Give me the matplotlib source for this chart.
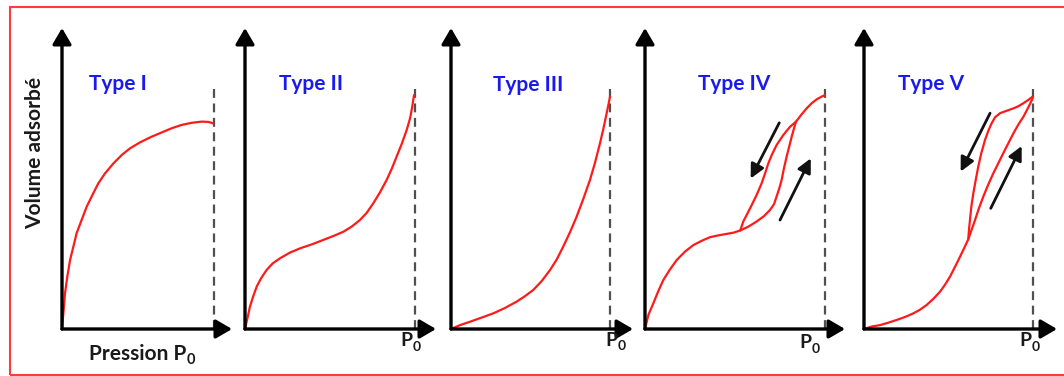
import matplotlib.pyplot as plt
from matplotlib.patches import Rectangle

plt.rcParams["font.family"] = ["Lato", "DejaVu Sans"]

# Isothermes d'adsorption (x = P/P0, y = volume adsorbé)
TYPE1_X = [0, 0.009, 0.020, 0.035, 0.053, 0.075, 0.096, 0.129, 0.162, 0.200, 0.239, 0.283,
           0.338, 0.393, 0.447, 0.513, 0.590, 0.656, 0.722, 0.787, 0.853, 0.919, 0.963, 0.996]
TYPE1_Y = [0, 0.052, 0.119, 0.174, 0.229, 0.274, 0.318, 0.362, 0.406, 0.445, 0.484, 0.517,
           0.550, 0.578, 0.600, 0.620, 0.639, 0.653, 0.667, 0.678, 0.685, 0.689, 0.688, 0.683]

TYPE2_X = [0, 0.014, 0.029, 0.049, 0.069, 0.094, 0.127, 0.163, 0.206, 0.265, 0.324, 0.392,
           0.461, 0.520, 0.578, 0.627, 0.676, 0.716, 0.755, 0.794, 0.833, 0.863, 0.892, 0.922,
           0.951, 0.971, 0.984, 0.994]
TYPE2_Y = [0, 0.035, 0.074, 0.110, 0.141, 0.168, 0.196, 0.218, 0.235, 0.254, 0.268, 0.281,
           0.296, 0.309, 0.323, 0.340, 0.362, 0.386, 0.418, 0.454, 0.495, 0.532, 0.573, 0.615,
           0.661, 0.700, 0.739, 0.777]

TYPE3_X = [0, 0.057, 0.119, 0.193, 0.266, 0.340, 0.413, 0.465, 0.518, 0.570, 0.623, 0.665,
           0.706, 0.748, 0.790, 0.832, 0.874, 0.906, 0.937, 0.958, 0.979, 0.992, 1.0]
TYPE3_Y = [0, 0.013, 0.024, 0.038, 0.052, 0.070, 0.091, 0.109, 0.130, 0.159, 0.196, 0.231,
           0.274, 0.321, 0.373, 0.432, 0.495, 0.553, 0.617, 0.664, 0.717, 0.750, 0.772]

TYPE4_ADS_X = [0, 0.019, 0.046, 0.074, 0.102, 0.139, 0.176, 0.222, 0.269, 0.315, 0.361, 0.407,
               0.454, 0.491, 0.528, 0.574, 0.620, 0.661, 0.694, 0.717, 0.731, 0.746, 0.759,
               0.772, 0.787, 0.802, 0.815, 0.828, 0.839, 0.870, 0.898, 0.926, 0.954, 0.981, 1.0]
TYPE4_ADS_Y = [0, 0.047, 0.085, 0.126, 0.163, 0.198, 0.229, 0.257, 0.279, 0.293, 0.305, 0.311,
               0.316, 0.320, 0.327, 0.340, 0.357, 0.375, 0.395, 0.415, 0.440, 0.467, 0.495,
               0.534, 0.573, 0.608, 0.639, 0.667, 0.689, 0.713, 0.733, 0.750, 0.763, 0.772, 0.777]
TYPE4_DES_X = [0.839, 0.806, 0.769, 0.731, 0.704, 0.685, 0.667, 0.648, 0.620, 0.593, 0.565,
               0.546, 0.533, 0.528]
TYPE4_DES_Y = [0.689, 0.672, 0.645, 0.611, 0.578, 0.550, 0.517, 0.484, 0.445, 0.412, 0.379,
               0.357, 0.334, 0.327]

TYPE5_ADS_X = [0, 0.045, 0.095, 0.144, 0.193, 0.243, 0.292, 0.331, 0.371, 0.410, 0.450, 0.479,
               0.509, 0.538, 0.568, 0.592, 0.617, 0.637, 0.657, 0.680, 0.706, 0.736, 0.765,
               0.795, 0.824, 0.854, 0.884, 0.913, 0.943, 0.972, 0.998]
TYPE5_ADS_Y = [0, 0.008, 0.013, 0.021, 0.030, 0.040, 0.052, 0.064, 0.080, 0.100, 0.124, 0.147,
               0.174, 0.206, 0.240, 0.268, 0.298, 0.330, 0.362, 0.401, 0.440, 0.481, 0.517,
               0.551, 0.584, 0.617, 0.650, 0.679, 0.705, 0.736, 0.766]
TYPE5_DES_X = [0.617, 0.621, 0.627, 0.635, 0.647, 0.661, 0.676, 0.694, 0.716, 0.736, 0.755,
               0.775, 0.805, 0.844, 0.884, 0.913, 0.943, 0.972, 0.998]
TYPE5_DES_Y = [0.298, 0.329, 0.362, 0.406, 0.451, 0.495, 0.539, 0.584, 0.628, 0.659, 0.683,
               0.703, 0.717, 0.725, 0.733, 0.740, 0.750, 0.761, 0.772]

TITLES = ["Type I", "Type II", "Type III", "Type IV", "Type V"]

W, H = 1064, 376
# position des panneaux en pixels : axe y, bout de l'axe x, ligne P0
PANELS = [(62, 232, 214), (245, 436, 415), (451, 633, 610), (645, 845, 825), (864, 1057, 1033)]
AX_BOTTOM, AX_TOP = 329, 28
DASH_TOP = 0.81
TITLE_POS = [(118, 84), (311, 84), (528, 85), (734, 84), (931, 84)]
P0_POS = [None, (406, 341), (611, 340), (805, 343), (1025, 341)]

RED = "#ff1a1a"
DARK = "#1a1a1a"
fig = plt.figure(figsize=(W / 100, H / 100), dpi=100)
fig.patch.set_facecolor("white")

curves = [
    [(TYPE1_X, TYPE1_Y)],
    [(TYPE2_X, TYPE2_Y)],
    [(TYPE3_X, TYPE3_Y)],
    [(TYPE4_ADS_X, TYPE4_ADS_Y), (TYPE4_DES_X, TYPE4_DES_Y)],
    [(TYPE5_ADS_X, TYPE5_ADS_Y), (TYPE5_DES_X, TYPE5_DES_Y)],
]

# flèches de sens (désorption / adsorption)
HYST_ARROWS = {
    3: [((0.746, 0.685), (0.587, 0.500)), ((0.750, 0.362), (0.921, 0.567))],
    4: [((0.746, 0.717), (0.572, 0.523)), ((0.750, 0.401), (0.933, 0.608))],
}

axis_arrow = dict(arrowstyle="-|>,head_length=0.65,head_width=0.38", lw=2.4,
                  color="black", shrinkA=0, shrinkB=0, mutation_scale=15)


def add_subscript(ax, parent, sub, size):
    # indice "0" accroché en bas à droite du texte parent
    ax.annotate(sub, xy=(1, 0), xycoords=parent, xytext=(0.5, -2.5),
                textcoords="offset points", fontsize=size, fontweight="bold",
                color=DARK, ha="left", va="bottom", annotation_clip=False)


axes = []
for i, (x0, x1, xd) in enumerate(PANELS):
    ax = fig.add_axes([x0 / W, 1 - AX_BOTTOM / H, (x1 - x0) / W, (AX_BOTTOM - AX_TOP) / H])
    ax.set_xlim(0, (x1 - x0) / (xd - x0))
    ax.set_ylim(0, 1)
    ax.axis("off")
    axes.append(ax)

    ax.axvline(1.0, ymin=0, ymax=DASH_TOP, ls=(0, (4, 2.5)), color="#505050", lw=1.6)
    for xs, ys in curves[i]:
        ax.plot(xs, ys, color=RED, lw=1.6, clip_on=False, solid_joinstyle="round",
                solid_capstyle="round")

    ax.annotate("", xy=(1, 0), xytext=(0, 0), xycoords="axes fraction",
                textcoords="axes fraction", arrowprops=axis_arrow)
    ax.annotate("", xy=(0, 1), xytext=(0, 0), xycoords="axes fraction",
                textcoords="axes fraction", arrowprops=axis_arrow)

    for tail, tip in HYST_ARROWS.get(i, []):
        ax.annotate("", xy=tip, xytext=tail,
                    arrowprops=dict(arrowstyle="-|>,head_length=0.6,head_width=0.3",
                                    lw=2.0, color="#111111", shrinkA=0, shrinkB=0,
                                    mutation_scale=14))

    tx, ty = TITLE_POS[i]
    fig.text(tx / W, 1 - ty / H, TITLES[i], color="#1a1aee", fontsize=15,
             fontweight="bold", ha="center", va="center")
    if P0_POS[i] is not None:
        px, py = P0_POS[i]
        t = fig.text(px / W, 1 - py / H, "P", color=DARK, fontsize=14,
                     fontweight="bold", ha="center", va="center")
        add_subscript(ax, t, "0", 10)

fig.text(35 / W, 1 - 153 / H, "Volume adsorbé", rotation=90, color=DARK,
         fontsize=15, fontweight="bold", ha="center", va="center")
t = fig.text(89 / W, 1 - 354 / H, "Pression P", color=DARK,
             fontsize=15, fontweight="bold", ha="left", va="center")
add_subscript(axes[0], t, "0", 10.5)

# cadre rouge
fig.patches.append(Rectangle((10 / W, 1 / H), 1070 / W, 368 / H, transform=fig.transFigure,
                             fill=False, edgecolor="#ff3b3b", lw=1.5))

fig.savefig("out.png", dpi=100, facecolor="white")
